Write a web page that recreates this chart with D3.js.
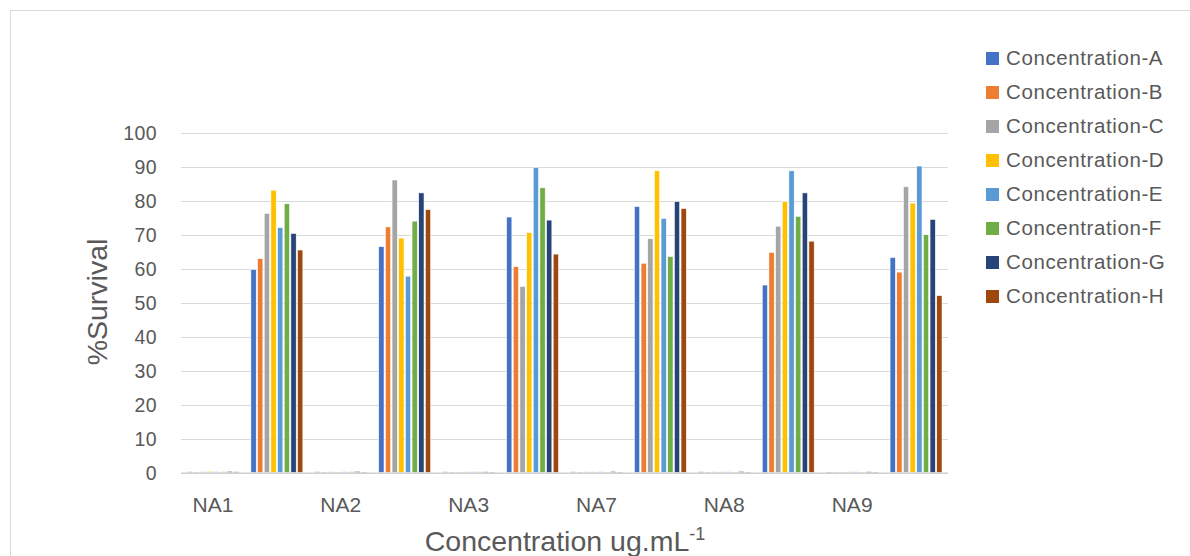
<!DOCTYPE html>
<html>
<head>
<meta charset="utf-8">
<script src="https://cdn.jsdelivr.net/npm/d3@7"></script>
<style>
  html, body { margin: 0; padding: 0; background: #fff; }
  svg { display: block; font-family: "Liberation Sans", Arial, sans-serif; }
</style>
</head>
<body>
<svg id="chart" width="1190" height="556"></svg>
<script>
// Category slots: labelled sample groups alternate with unlabelled groups
const categoryLabels = ["NA1", "", "NA2", "", "NA3", "", "NA7", "", "NA8", "", "NA9", ""];

const seriesNames = [
  "Concentration-A", "Concentration-B", "Concentration-C", "Concentration-D",
  "Concentration-E", "Concentration-F", "Concentration-G", "Concentration-H"
];

const seriesColors = ["#4472C4", "#ED7D31", "#A5A5A5", "#FFC000", "#5B9BD5", "#70AD47", "#264478", "#9E480E"];

// %Survival per series, one value per category slot
const concA = [0.3, 59.8, 0.3, 66.5, 0.3, 75.2, 0.3, 78.3, 0.3, 55.2, 0.2, 63.3];
const concB = [0.2, 63.0, 0.2, 72.3, 0.2, 60.6, 0.2, 61.6, 0.2, 64.8, 0.2, 59.0];
const concC = [0.3, 76.3, 0.3, 86.1, 0.2, 54.8, 0.3, 68.8, 0.3, 72.5, 0.2, 84.1];
const concD = [0.4, 83.1, 0.2, 69.0, 0.3, 70.6, 0.3, 88.8, 0.3, 79.8, 0.3, 79.3];
const concE = [0.3, 72.1, 0.3, 57.8, 0.3, 89.8, 0.3, 74.8, 0.3, 88.8, 0.3, 90.2];
const concF = [0.3, 79.1, 0.3, 74.0, 0.3, 83.8, 0.2, 63.6, 0.2, 75.4, 0.2, 70.0];
const concG = [0.4, 70.4, 0.4, 82.3, 0.3, 74.3, 0.4, 79.8, 0.4, 82.3, 0.3, 74.5];
const concH = [0.3, 65.5, 0.2, 77.4, 0.2, 64.3, 0.2, 77.7, 0.2, 68.1, 0.2, 52.1];

const seriesValues = [concA, concB, concC, concD, concE, concF, concG, concH];

const yTicks = [0, 10, 20, 30, 40, 50, 60, 70, 80, 90, 100];

const textColor = "#595959";
const gridColor = "#D9D9D9";

const svg = d3.select("#chart");

// Chart area border
svg.append("rect")
  .attr("x", 10.5).attr("y", 10.5)
  .attr("width", 1300).attr("height", 700)
  .attr("fill", "none")
  .attr("stroke", gridColor)
  .attr("stroke-width", 1);

const plot = { left: 181, right: 948, top: 132.7, bottom: 472.7 };

const x0 = d3.scaleBand()
  .domain(d3.range(categoryLabels.length))
  .range([plot.left, plot.right])
  .paddingInner(0.166)
  .paddingOuter(0.083);

const x1 = d3.scaleBand()
  .domain(seriesNames)
  .range([0, x0.bandwidth()])
  .paddingInner(0.2)
  .paddingOuter(0.1);

const y = d3.scaleLinear()
  .domain([0, 100])
  .range([plot.bottom, plot.top]);

// Horizontal gridlines
svg.append("g")
  .selectAll("line")
  .data(yTicks.filter(t => t > 0))
  .join("line")
  .attr("x1", plot.left).attr("x2", plot.right)
  .attr("y1", d => Math.round(y(d)) + 0.5)
  .attr("y2", d => Math.round(y(d)) + 0.5)
  .attr("stroke", gridColor)
  .attr("stroke-width", 1.2);

// Y axis tick labels
const yAxis = d3.axisLeft(y).tickValues(yTicks).tickSize(0).tickPadding(0);
const yAxisG = svg.append("g")
  .attr("transform", `translate(157,0)`)
  .call(yAxis);
yAxisG.select(".domain").remove();
yAxisG.selectAll("text")
  .attr("fill", textColor)
  .attr("font-size", "19.5px")
  .attr("letter-spacing", "0.4px")
  .attr("font-family", "'Liberation Sans', Arial, sans-serif")
  .attr("dy", "0.36em");

// Bars
const groups = svg.append("g")
  .selectAll("g")
  .data(categoryLabels.map((lab, i) => i))
  .join("g")
  .attr("transform", i => `translate(${x0(i)},0)`);

groups.selectAll("rect")
  .data(i => seriesNames.map((name, s) => ({ name, s, v: seriesValues[s][i] })))
  .join("rect")
  .attr("x", d => x1(d.name))
  .attr("width", x1.bandwidth())
  .attr("y", d => y(d.v))
  .attr("height", d => y(0) - y(d.v))
  .attr("fill", d => seriesColors[d.s])
  .attr("stroke", "#fff")
  .attr("stroke-width", 0.6);

// X axis line and category labels
const xAxis = d3.axisBottom(x0)
  .tickFormat(i => categoryLabels[i])
  .tickSize(0)
  .tickPadding(0);
const xAxisG = svg.append("g")
  .attr("transform", `translate(0,${plot.bottom})`)
  .call(xAxis);
xAxisG.select(".domain")
  .attr("d", `M${plot.left},0.5H${plot.right}`)
  .attr("stroke", "#D0D0D0")
  .attr("stroke-width", 1.6);
xAxisG.selectAll("text")
  .attr("fill", textColor)
  .attr("font-size", "21px")
  .attr("font-family", "'Liberation Sans', Arial, sans-serif")
  .attr("y", 39)
  .attr("dy", null);

// Y axis title
svg.append("text")
  .attr("transform", "translate(106.5,302) rotate(-90)")
  .attr("text-anchor", "middle")
  .attr("fill", textColor)
  .attr("font-size", "28.5px")
  .text("%Survival");

// X axis title with superscript
const xTitle = svg.append("text")
  .attr("x", 565)
  .attr("y", 551)
  .attr("text-anchor", "middle")
  .attr("fill", textColor)
  .attr("font-size", "28.5px");
xTitle.append("tspan").text("Concentration ug.mL");
xTitle.append("tspan")
  .attr("font-size", "18px")
  .attr("dy", -11)
  .text("-1");

// Legend
const legend = svg.append("g")
  .selectAll("g")
  .data(seriesNames)
  .join("g")
  .attr("transform", (d, i) => `translate(986,${64.5 + i * 34})`);

legend.append("rect")
  .attr("x", 0).attr("y", -12.5)
  .attr("width", 13).attr("height", 13)
  .attr("fill", (d, i) => seriesColors[i]);

legend.append("text")
  .attr("x", 20)
  .attr("y", 0)
  .attr("fill", textColor)
  .attr("font-size", "20.5px")
  .attr("letter-spacing", "0.6px")
  .text(d => d);
</script>
</body>
</html>
